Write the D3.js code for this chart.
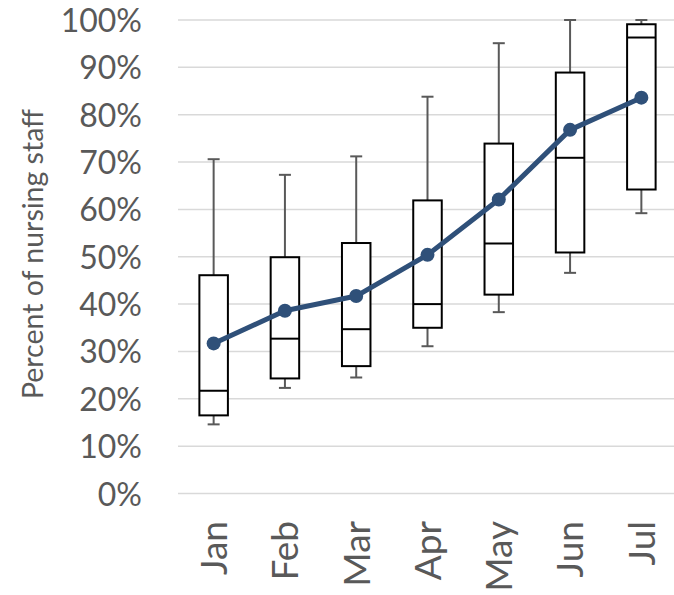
<!DOCTYPE html>
<html>
<head>
<meta charset="utf-8">
<script src="https://cdn.jsdelivr.net/npm/d3@7"></script>
<style>
  body { margin: 0; background: #fff; }
  svg text { font-family: Lato, "Open Sans", sans-serif; fill: #595959; }
</style>
</head>
<body>
<div id="chart"></div>
<script>
"use strict";

// values in percent
var months      = ["Jan", "Feb", "Mar", "Apr", "May", "Jun", "Jul"];
var whiskerLow  = [14.6, 22.3, 24.5, 31.1, 38.3, 46.6, 59.2];
var boxLow      = [16.5, 24.3, 26.9, 35.0, 42.0, 50.9, 64.2];
var medians     = [21.7, 32.7, 34.7, 40.0, 52.8, 70.9, 96.3];
var boxHigh     = [46.1, 49.9, 52.9, 61.9, 73.9, 88.9, 99.1];
var whiskerHigh = [70.6, 67.3, 71.2, 83.8, 95.1, 100, 100];
var means       = [31.7, 38.6, 41.7, 50.4, 62.1, 76.8, 83.6];
var yTicks      = [0, 10, 20, 30, 40, 50, 60, 70, 80, 90, 100];

var width  = 674;
var height = 595;

var svg = d3.select("#chart").append("svg")
  .attr("width", width)
  .attr("height", height);

var x = d3.scaleBand()
  .domain(months)
  .range([178, 677])
  .paddingInner(0)
  .paddingOuter(0);

var y = d3.scaleLinear()
  .domain([0, 100])
  .range([493.5, 20]);

var boxW = x.bandwidth() * 0.4;
var capW = 12;

var rows = months.map(function(m, i) {
  return {
    month: m,
    wl: whiskerLow[i], bl: boxLow[i], med: medians[i],
    bh: boxHigh[i], wh: whiskerHigh[i], mean: means[i]
  };
});

var cx = function(d) { return x(d.month) + x.bandwidth() / 2; };

// gridlines
svg.append("g")
  .selectAll("line")
  .data(yTicks)
  .enter().append("line")
  .attr("x1", 178)
  .attr("x2", width)
  .attr("y1", function(d) { return y(d); })
  .attr("y2", function(d) { return y(d); })
  .attr("stroke", "#d9d9d9")
  .attr("stroke-width", 1.5);

// y axis labels
var yAxis = d3.axisLeft(y)
  .tickValues(yTicks)
  .tickSize(0)
  .tickPadding(0)
  .tickFormat(function(d) { return d + "%"; });

var yg = svg.append("g")
  .attr("transform", "translate(142,0)")
  .call(yAxis);
yg.select(".domain").remove();
yg.selectAll("text")
  .attr("font-size", 32)
  .attr("dy", "0.36em")
  .style("font-family", "Lato, sans-serif")
  .attr("fill", "#595959");

// x axis labels, rotated
var xAxis = d3.axisBottom(x).tickSize(0).tickPadding(0);
var xg = svg.append("g")
  .attr("transform", "translate(0,521)")
  .call(xAxis);
xg.select(".domain").remove();
xg.selectAll("text")
  .attr("font-size", 37)
  .attr("text-anchor", "end")
  .attr("transform", "rotate(-90)")
  .attr("x", 0)
  .attr("y", 0)
  .attr("dy", "0.36em")
  .style("font-family", "Lato, sans-serif")
  .attr("fill", "#595959");

// axis title
svg.append("text")
  .attr("transform", "translate(43,254) rotate(-90)")
  .attr("text-anchor", "middle")
  .attr("font-size", 28.5)
  .text("Percent of nursing staff");

// boxes
var box = svg.append("g").selectAll("g")
  .data(rows)
  .enter().append("g");

box.append("line")
  .attr("x1", cx).attr("x2", cx)
  .attr("y1", function(d) { return y(d.bh); })
  .attr("y2", function(d) { return y(d.wh); })
  .attr("stroke", "#595959").attr("stroke-width", 2);

box.append("line")
  .attr("x1", cx).attr("x2", cx)
  .attr("y1", function(d) { return y(d.bl); })
  .attr("y2", function(d) { return y(d.wl); })
  .attr("stroke", "#595959").attr("stroke-width", 2);

box.append("line")
  .attr("x1", function(d) { return cx(d) - capW / 2; })
  .attr("x2", function(d) { return cx(d) + capW / 2; })
  .attr("y1", function(d) { return y(d.wh); })
  .attr("y2", function(d) { return y(d.wh); })
  .attr("stroke", "#595959").attr("stroke-width", 2);

box.append("line")
  .attr("x1", function(d) { return cx(d) - capW / 2; })
  .attr("x2", function(d) { return cx(d) + capW / 2; })
  .attr("y1", function(d) { return y(d.wl); })
  .attr("y2", function(d) { return y(d.wl); })
  .attr("stroke", "#595959").attr("stroke-width", 2);

box.append("rect")
  .attr("x", function(d) { return cx(d) - boxW / 2; })
  .attr("width", boxW)
  .attr("y", function(d) { return y(d.bh); })
  .attr("height", function(d) { return y(d.bl) - y(d.bh); })
  .attr("fill", "#fff")
  .attr("stroke", "#000")
  .attr("stroke-width", 2);

box.append("line")
  .attr("x1", function(d) { return cx(d) - boxW / 2; })
  .attr("x2", function(d) { return cx(d) + boxW / 2; })
  .attr("y1", function(d) { return y(d.med); })
  .attr("y2", function(d) { return y(d.med); })
  .attr("stroke", "#000").attr("stroke-width", 2);

// mean line
var line = d3.line()
  .x(cx)
  .y(function(d) { return y(d.mean); });

svg.append("path")
  .datum(rows)
  .attr("d", line)
  .attr("fill", "none")
  .attr("stroke", "#2f5079")
  .attr("stroke-width", 5)
  .attr("stroke-linejoin", "round");

svg.append("g").selectAll("circle")
  .data(rows)
  .enter().append("circle")
  .attr("cx", cx)
  .attr("cy", function(d) { return y(d.mean); })
  .attr("r", 7)
  .attr("fill", "#2f5079");
</script>
</body>
</html>
